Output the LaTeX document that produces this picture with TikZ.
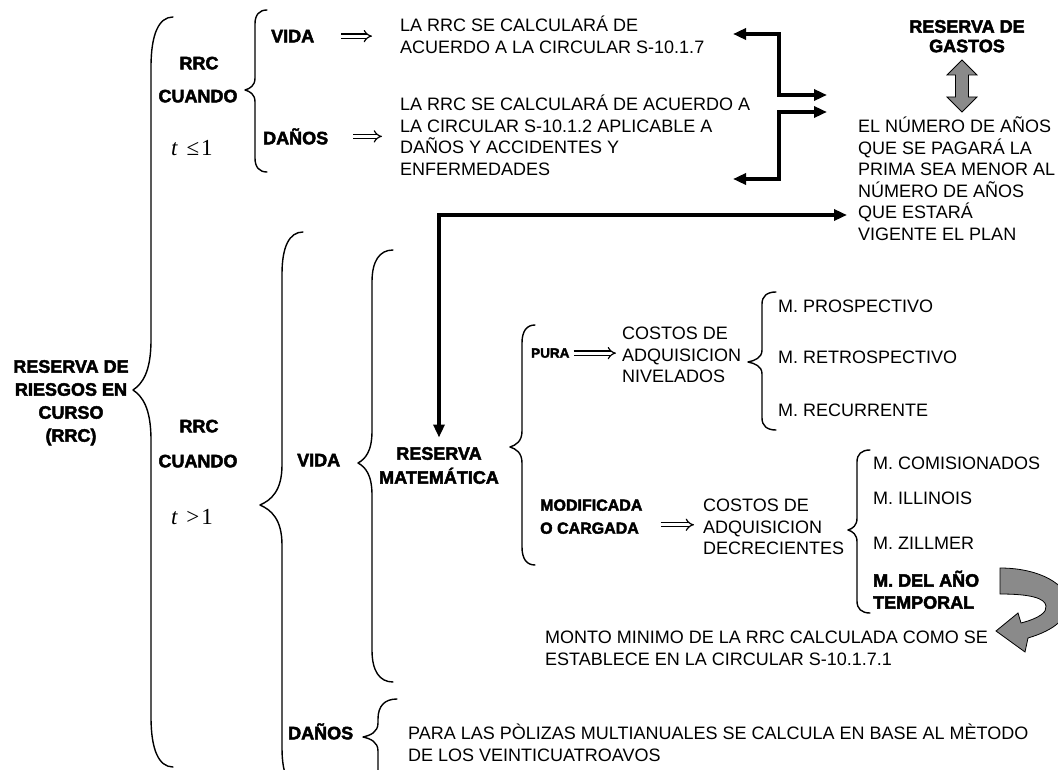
\documentclass[tikz,border=0pt]{standalone}
\usepackage{fontspec}
\setmainfont{Liberation Sans}
\newfontfamily\heavyfont[FakeBold=2.5]{Liberation Sans Bold}
\newfontfamily\condfont{Liberation Serif}
\usetikzlibrary{arrows.meta}
\definecolor{arrowgray}{HTML}{8A8A8A}

% fixed first-line height so that multi-line nodes line up by their top
\newcommand\capline{\rule{0pt}{17pt}}
% curly brace: #1 spine x, #2 tip x, #3 end x, #4 top y, #5 tip y, #6 bottom y,
% #7 length of the end curls, #8 half height of the tip
\newcommand\curlybrace[8]{%
  \draw[bracepath]
    ({#3},{#4}) .. controls ({#1+0.35*(#3-#1)},{#4}) and ({#1},{#4+0.35*#7}) .. ({#1},{#4+#7})
    -- ({#1},{#5-#8})
    .. controls ({#1},{#5-0.35*#8}) and ({#2+0.5*(#1-#2)},{#5-0.12*#8}) .. ({#2},{#5})
    .. controls ({#2+0.5*(#1-#2)},{#5+0.12*#8}) and ({#1},{#5+0.35*#8}) .. ({#1},{#5+#8})
    -- ({#1},{#6-#7})
    .. controls ({#1},{#6-0.35*#7}) and ({#1+0.35*(#3-#1)},{#6}) .. ({#3},{#6});
}

\begin{document}
\begin{tikzpicture}[x=1pt,y=-1pt,
  txt/.style={inner sep=0pt, align=left, anchor=north west, font=\fontsize{18}{21.5}\selectfont},
  lbl/.style={inner sep=0pt, align=center, font=\heavyfont\fontsize{18}{23}\selectfont},
  cond/.style={inner sep=0pt, font=\condfont\fontsize{23}{26}\selectfont},
  bracepath/.style={line width=1.4pt, line join=round, line cap=round},
  link/.style={line width=3.4pt, {Triangle[length=13pt,width=11pt]}-{Triangle[length=13pt,width=11pt]}},
  implies/.style={double, double distance=3pt, line width=1.2pt, -{Implies}},
  grayblock/.style={fill=arrowgray, draw=black, line width=0.8pt, line join=miter}
]
\useasboundingbox (0,0) rectangle (1058,770);
\clip (0,0) rectangle (1058,770);
\fill[white] (0,0) rectangle (1058,770);

% ---- root ----
\node[lbl, anchor=north] (rrcmain) at (71,355.5) {\capline RESERVA DE\\RIESGOS EN\\CURSO\\(RRC)};

% ---- t <= 1 ----
\node[lbl, anchor=base] (rrcA) at (199,69.3) {RRC};
\node[lbl, anchor=base] (whenA) at (198,102.3) {CUANDO};
\node[cond, anchor=base] (condA) at (192,155.5) {{\itshape t}\hspace{9pt}≤\hspace{2pt}1};
\node[lbl, anchor=base west] (vidaA) at (271,42.3) {VIDA};
\node[lbl, anchor=base west] (danosA) at (263,144.3) {DAÑOS};
\node[txt] (calcA) at (400,14.5) {\capline LA RRC SE CALCULARÁ DE\\ACUERDO A LA CIRCULAR S-10.1.7};
\node[txt] (calcB) at (400,93.5) {\capline LA RRC SE CALCULARÁ DE ACUERDO A\\LA CIRCULAR S-10.1.2 APLICABLE A\\DAÑOS Y ACCIDENTES Y\\ENFERMEDADES};

% ---- expense reserve ----
\node[lbl, anchor=north, font=\heavyfont\fontsize{18}{19.5}\selectfont] (gastos) at (967,15.5) {\capline RESERVA DE\\GASTOS};
\node[txt] (plazo) at (858,115.5) {\capline EL NÚMERO DE AÑOS\\QUE SE PAGARÁ LA\\PRIMA SEA MENOR AL\\NÚMERO DE AÑOS\\QUE ESTARÁ\\VIGENTE EL PLAN};

% ---- t > 1 ----
\node[lbl, anchor=base] (rrcB) at (199,432.3) {RRC};
\node[lbl, anchor=base] (whenB) at (198,467.3) {CUANDO};
\node[cond, anchor=base] (condB) at (192,524.5) {{\itshape t}\hspace{9pt}>\hspace{2pt}1};
\node[lbl, anchor=base west] (vidaB) at (297,466.3) {VIDA};
\node[lbl, anchor=north, font=\heavyfont\fontsize{18}{24}\selectfont] (resmat) at (439,442.5) {\capline RESERVA\\MATEMÁTICA};

\node[lbl, anchor=base west, font=\heavyfont\fontsize{13.5}{15}\selectfont] (pura) at (531,357.7) {PURA};
\node[txt] (costosA) at (622,322.5) {\capline COSTOS DE\\ADQUISICION\\NIVELADOS};
\node[txt, anchor=base west] (prosp) at (778,312.3) {M. PROSPECTIVO};
\node[txt, anchor=base west] (retro) at (778,363.3) {M. RETROSPECTIVO};
\node[txt, anchor=base west] (recur) at (778,416.3) {M. RECURRENTE};

\node[lbl, anchor=north west, align=left, font=\heavyfont\fontsize{16}{23}\selectfont] (modif) at (540,493.5) {\capline MODIFICADA\\O CARGADA};
\node[txt] (costosB) at (703,494.5) {\capline COSTOS DE\\ADQUISICION\\DECRECIENTES};
\node[txt, anchor=base west] (comis) at (873,469.3) {M. COMISIONADOS};
\node[txt, anchor=base west] (illin) at (873,504.3) {M. ILLINOIS};
\node[txt, anchor=base west] (zillm) at (873,549.3) {M. ZILLMER};
\node[lbl, anchor=north west, align=left, font=\heavyfont\fontsize{18}{22}\selectfont] (temporal) at (873,569.5) {\capline M. DEL AÑO\\TEMPORAL};
\node[txt] (monto) at (545,626.5) {\capline MONTO MINIMO DE LA RRC CALCULADA COMO SE\\ESTABLECE EN LA CIRCULAR S-10.1.7.1};

\node[lbl, anchor=base west] (danosB) at (288,739.3) {DAÑOS};
\node[txt] (multi) at (408,722.5) {\capline PARA LAS PÒLIZAS MULTIANUALES SE CALCULA EN BASE AL MÈTODO\\DE LOS VEINTICUATROAVOS};

% ---- braces ----
\curlybrace{151}{133}{173}{17}{390}{767}{50}{50}
\curlybrace{255}{245}{267}{10}{90}{172}{14}{12}
\curlybrace{282}{260}{303}{232}{505}{790}{42}{40}
\curlybrace{372}{358}{393}{250}{463}{682}{32}{32}
\curlybrace{522}{510}{535}{325}{447}{565}{18}{16}
\curlybrace{762}{748}{776}{292}{362}{430}{12}{12}
\curlybrace{857}{848}{870}{450}{530}{613}{12}{12}
\curlybrace{378}{363}{397}{699}{737}{800}{20}{14}

% ---- implication arrows ----
\draw[implies, shorten <=27pt, shorten >=28pt] (vidaA.east) -- (vidaA.east -| calcA.west);
\draw[implies, shorten <=25pt, shorten >=18pt] (danosA.east) -- (danosA.east -| calcB.west);
\draw[implies, shorten <=4pt, shorten >=6pt] (pura.east) -- (pura.east -| costosA.west);
\draw[implies, shorten <=18pt, shorten >=9pt] (modif.east |- costosB.west) -- (costosB.west);

% ---- thick links to the expense reserve ----
\coordinate (outA) at (733,34);
\coordinate (outB) at (733,179);
\coordinate (inA) at (827,95);
\coordinate (inB) at (827,112);
\coordinate (inC) at (847,215);
\draw[link] (outA) -| (779,95) -- (inA);
\draw[link] (outB) -| (779,112) -- (inB);
\draw[link, shorten <=5pt] (resmat.north) |- (inC);

% ---- gray block arrows ----
\filldraw[grayblock] (962,60) -- (977,75) -- (968.5,75) -- (968.5,97) -- (977,97) -- (962,112)
  -- (947,97) -- (955.5,97) -- (955.5,75) -- (947,75) -- cycle;
\filldraw[grayblock] (1000,568) .. controls (1040,568) and (1068,585) .. (1068,603)
  .. controls (1068,618) and (1055,630) .. (1028,638)
  -- (1025,652) -- (996,631) -- (1018,613) -- (1021,623)
  .. controls (1040,618) and (1047,612) .. (1046,606)
  .. controls (1045,598) and (1030,594) .. (1000,594) -- cycle;
\end{tikzpicture}
\end{document}
